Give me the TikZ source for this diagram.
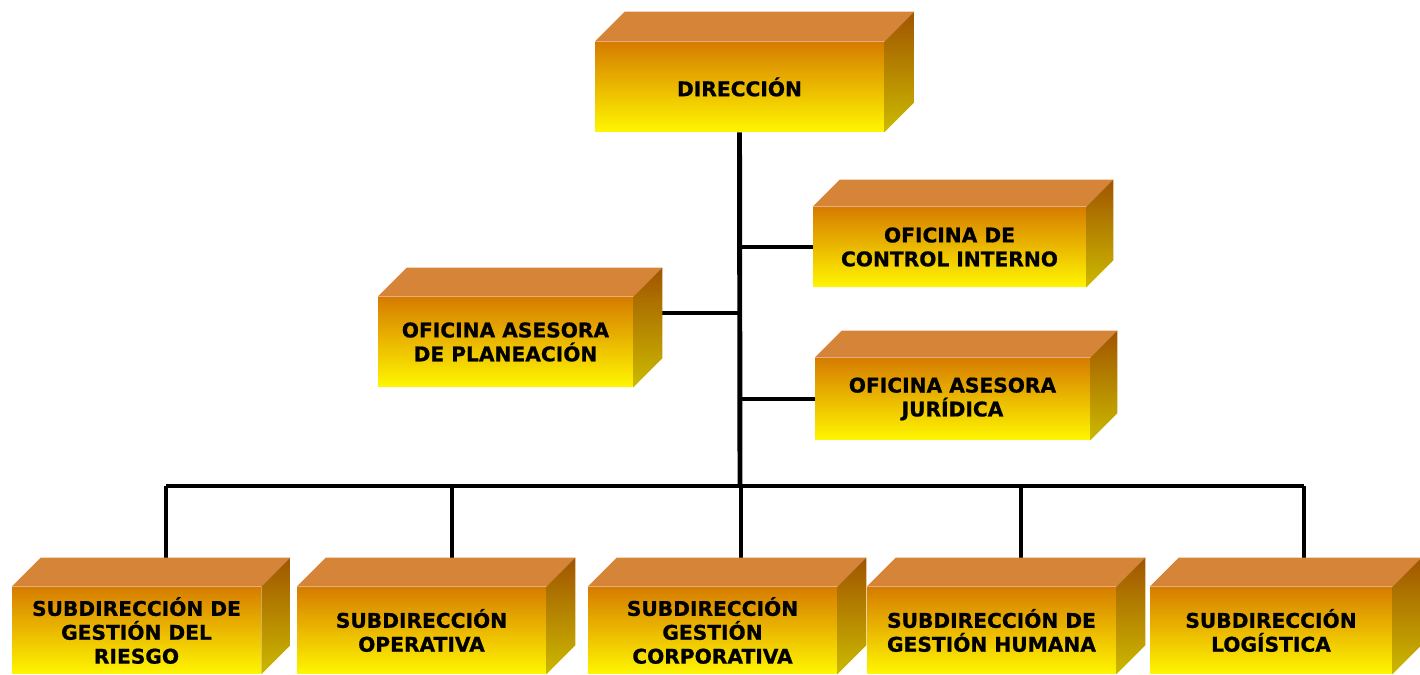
\documentclass[tikz,border=0pt]{standalone}
\usepackage{fontspec}
\setmainfont[BoldFeatures={FakeBold=0.8}]{DejaVu Sans}
\definecolor{topface}{RGB}{214,132,56}
\definecolor{frontup}{RGB}{214,124,0}
\definecolor{frontdown}{RGB}{255,246,0}
\definecolor{sideup}{RGB}{160,84,0}
\definecolor{sidedown}{RGB}{204,186,0}
\tikzset{
  unit/.style={inner sep=0pt, align=center, top color=frontup, bottom color=frontdown,
    font=\fontsize{11.5}{13.6}\selectfont\bfseries},
  link/.style={line width=2.3pt},
  trunk/.style={line width=2.8pt},
}
% top and right faces of a box, #2 = depth
\newcommand{\faces}[2]{
  \fill[topface] (#1.north west) -- ++(#2,-#2) -- ([shift={(#2,-#2)}]#1.north east)
    -- (#1.north east) -- cycle;
  \shade[top color=sideup, bottom color=sidedown] (#1.north east) -- ++(#2,-#2)
    -- ([shift={(#2,-#2)}]#1.south east) -- (#1.south east) -- cycle;
}
\begin{document}
\begin{tikzpicture}[x=0.02cm, y=-0.02cm]
  \useasboundingbox (0,0) rectangle (1420,675);
  \coordinate (bus) at (740,486);
  \coordinate (t1) at (166,486);
  \coordinate (t2) at (452,486);
  \coordinate (t3) at (741,486);
  \coordinate (t4) at (1021,486);
  \coordinate (t5) at (1304,486);
  \coordinate (foot) at (0,570);
  \path
    (739.5,87) node[unit, minimum width=5.78cm, minimum height=1.8cm] (dir) {DIRECCIÓN}
    (949.5,247) node[unit, minimum width=5.46cm, minimum height=1.6cm] (ctrl) {OFICINA DE\\CONTROL INTERNO}
    (505.5,342) node[unit, minimum width=5.10cm, minimum height=1.8cm] (plan) {OFICINA ASESORA\\DE PLANEACIÓN}
    (952.5,399) node[unit, minimum width=5.50cm, minimum height=1.64cm] (jur) {OFICINA ASESORA\\JURÍDICA}
    (136.5,630.5) node[unit, minimum width=4.98cm, minimum height=1.74cm] (sub1) {SUBDIRECCIÓN DE\\GESTIÓN DEL\\RIESGO}
    (421.5,630.5) node[unit, minimum width=4.98cm, minimum height=1.74cm] (sub2) {SUBDIRECCIÓN\\OPERATIVA}
    (712.5,630.5) node[unit, minimum width=4.98cm, minimum height=1.74cm] (sub3) {SUBDIRECCIÓN\\GESTIÓN\\CORPORATIVA}
    (991.5,630.5) node[unit, minimum width=4.98cm, minimum height=1.74cm] (sub4) {SUBDIRECCIÓN DE\\GESTIÓN HUMANA}
    (1271,630.5) node[unit, minimum width=4.84cm, minimum height=1.74cm] (sub5) {SUBDIRECCIÓN\\LOGÍSTICA};
  \coordinate (pr) at ([shift={(29,-29)}]plan.east);
  \begin{scope}
    \draw[trunk] (dir.south) -- (bus);
    \draw[link] (ctrl.west) -- (ctrl.west -| bus);
    \draw[link] (jur.west) -- (jur.west -| bus);
    \draw[link] (pr) -- (pr -| bus);
    \draw[link] (t1) -- (t5);
    \draw[link] (t1) -- (t1 |- foot);
    \draw[link] (t2) -- (t2 |- foot);
    \draw[link] (t3) -- (t3 |- foot);
    \draw[link] (t4) -- (t4 |- foot);
    \draw[link] (t5) -- (t5 |- foot);
  \end{scope}
  \faces{dir}{30}
  \faces{ctrl}{27}
  \faces{plan}{29}
  \faces{jur}{27}
  \faces{sub1}{29}
  \faces{sub2}{29}
  \faces{sub3}{29}
  \faces{sub4}{29}
  \faces{sub5}{29}
\end{tikzpicture}
\end{document}
